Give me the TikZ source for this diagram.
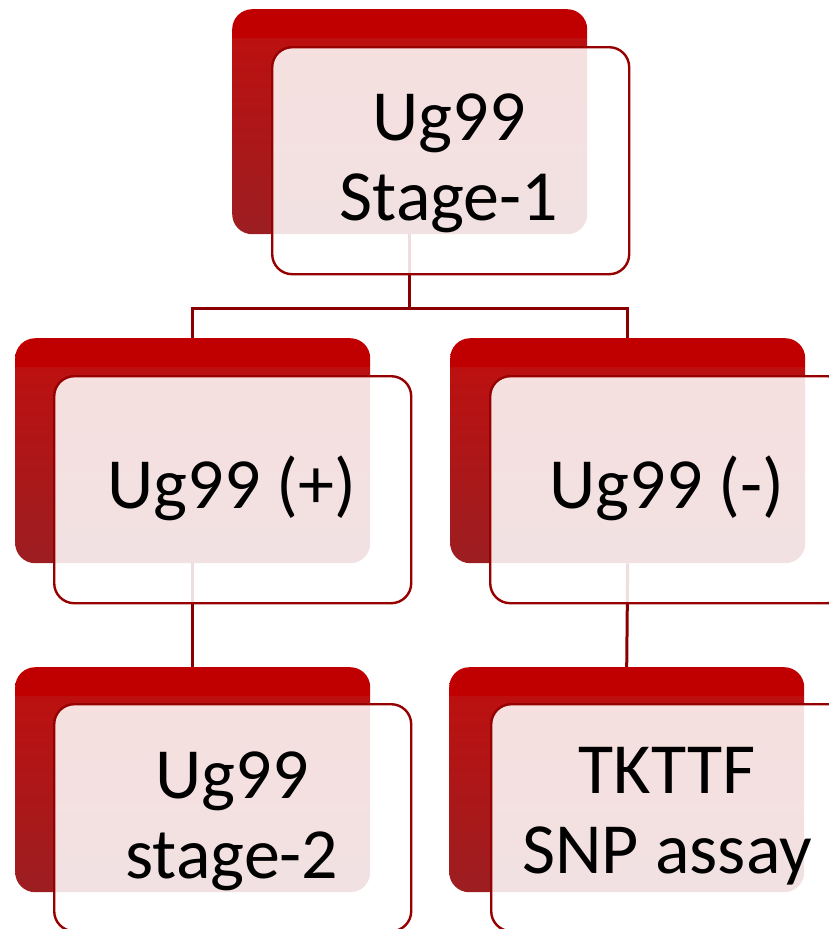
\documentclass[tikz,border=0pt]{standalone}
\usepackage{fontspec}
\setmainfont{Carlito}
\definecolor{boxred}{RGB}{192,0,0}
\definecolor{boxredmid}{RGB}{188,16,16}
\definecolor{boxredlow}{RGB}{156,30,33}
\definecolor{edgered}{RGB}{150,0,0}
\definecolor{wirered}{RGB}{138,0,0}
% solid band along the top, then a soft fall-off towards the bottom
\pgfdeclareverticalshading{redpanel}{100bp}{%
  color(0bp)=(boxredlow); color(25bp)=(boxredlow);
  color(68.6bp)=(boxredmid); color(68.8bp)=(boxred);
  color(75bp)=(boxred); color(100bp)=(boxred)}
\tikzset{
  backbox/.style={shading=redpanel, draw=none, rounded corners=20pt,
    minimum width=355pt, minimum height=225pt, inner sep=0pt, anchor=north west},
  frontbox/.style={draw=edgered, line width=2.4pt, fill=white, fill opacity=0.87,
    rounded corners=20pt, minimum width=357pt, minimum height=227pt,
    inner sep=0pt, anchor=north west},
  wire/.style={draw=wirered, line width=3pt},
  caption/.style={font=\fontsize{72}{80}\selectfont, align=center,
    inner sep=0pt, text=black, anchor=base}
}
\begin{document}
\begin{tikzpicture}[x=1pt, y=-1pt]
  \useasboundingbox (0,0) rectangle (828,929);
  % coloured panels behind each card
  \node[backbox] (b1)  at (232,9)   {};
  \node[backbox] (b2l) at (15,338)  {};
  \node[backbox] (b2r) at (450,338) {};
  \node[backbox] (b3l) at (15,667)  {};
  \node[backbox] (b3r) at (449,667) {};
  % tree connectors
  \draw[wire] (b1.south) -- ++(0,74) coordinate (split);
  \draw[wire] (split) -| (b2l.north);
  \draw[wire] (split) -| (b2r.north);
  \draw[wire] (b2l.south) -- (b3l.north);
  \draw[wire] (b2r.south) -- (b3r.north);
  % translucent cards in front
  \node[frontbox] (f1)  at (271,46)  {};
  \node[frontbox] (f2l) at (53,375)  {};
  \node[frontbox] (f2r) at (489,375) {};
  \node[frontbox] (f3l) at (53,703)  {};
  \node[frontbox] (f3r) at (490,703) {};
  % labels (the base anchor sits on the last line)
  \node[caption] (t1)  at (449,220) {Ug99\\Stage-1};
  \node[caption] (t2l) at (232,508) {Ug99 (+)};
  \node[caption] (t2r) at (667,508) {Ug99 (-)};
  \node[caption] (t3l) at (232,878) {Ug99\\stage-2};
  \node[caption] (t3r) at (667,873) {TKTTF\\SNP assay};
\end{tikzpicture}
\end{document}
